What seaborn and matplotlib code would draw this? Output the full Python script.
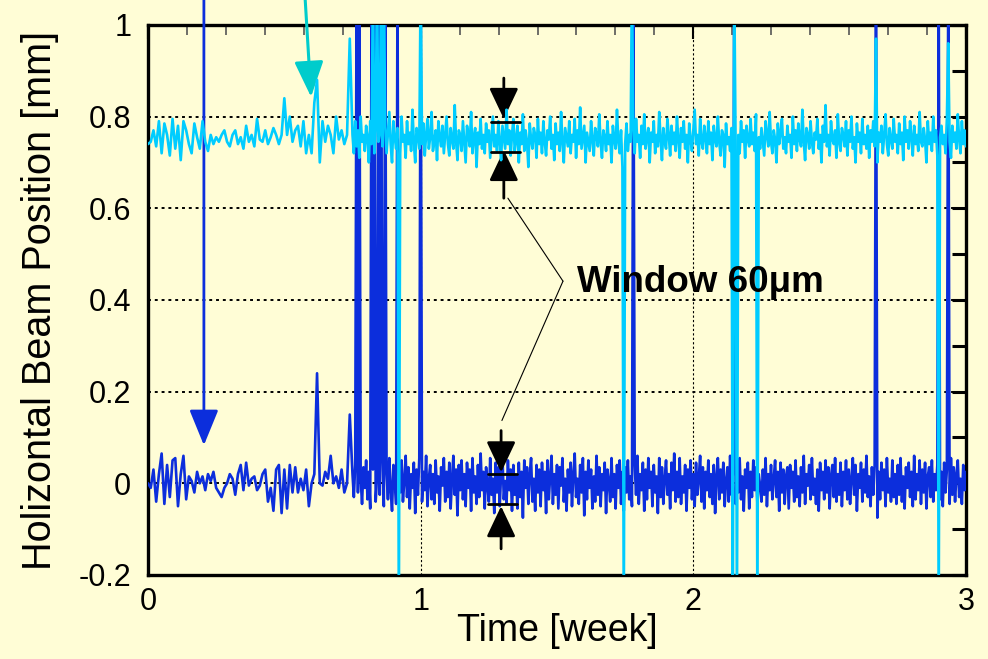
import numpy as np
import matplotlib
matplotlib.use("Agg")
import matplotlib.pyplot as plt
import seaborn as sns
from matplotlib.patches import ArrowStyle

# ---------------- data (values in micrometres) ----------------
# early, sparsely sampled part: t = 0 .. 0.74 week, step 0.01 week
cyan_early = [740, 745, 770, 735, 790, 720, 785, 760, 715, 795,
              730, 780, 705, 790, 770, 740, 720, 785, 755, 730,
              790, 745, 725, 760, 740, 755, 745, 760, 770, 745,
              735, 760, 770, 740, 755, 730, 780, 745, 760, 735,
              795, 750, 745, 770, 740, 755, 775, 760, 740, 760,
              840, 760, 800, 745, 770, 780, 735, 790, 720, 760,
              720, 830, 880, 700, 790, 745, 780, 760, 720, 800,
              750, 770, 740, 760, 970]
blue_early = [0, -10, 30, -40, 20, 65, -45, 40, -30, 50,
              55, -50, 20, 60, -35, 15, 5, -20, 25, 0,
              15, -15, 20, 5, 25, -10, -20, -30, -10, 0,
              20, 10, -25, 20, 40, -15, 45, -5, 10, 15,
              -15, -5, 20, 30, -40, -10, -60, 30, 40, -65,
              30, -55, 40, -20, 35, -20, 10, -15, 30, -50,
              0, 20, 240, 0, -5, 25, 10, 60, 0, 15,
              -10, 30, -20, 0, 150]
# dense part: t = 0.75 .. 3.0 week, step 0.005 week
cyan_late = [
    760, 720, 790, 735, 770, 710, 800, 745, 760, 725, 780, 755, 700, 790, 740, 1100, 720, 770, 1100, 745,
    760, 1100, 735, 1100, 780, 720, 765, 810, 740, 700, 790, 755, 730, 775, -300, 720, 800, 745, 760, 710,
    790, 740, 765, 725, 815, 745, 700, 775, 760, 730, 1100, 740, 785, 715, 760, 795, 730, 755, 810, 725,
    745, 770, 705, 790, 755, 735, 780, 720, 760, 800, 740, 715, 775, 750, 730, 825, 745, 705, 770, 760,
    725, 790, 745, 700, 780, 760, 735, 810, 720, 755, 775, 690, 765, 740, 795, 730, 760, 720, 785, 745,
    770, 710, 755, 800, 735, 760, 725, 790, 745, 705, 780, 755, 730, 815, 740, 770, 715, 760, 795, 725,
    750, 780, 700, 765, 740, 805, 725, 770, 745, 690, 785, 750, 730, 775, 760, 710, 795, 740, 765, 720,
    790, 745, 715, 770, 750, 800, 730, 760, 705, 785, 740, 765, 725, 810, 745, 700, 775, 755, 735, 790,
    720, 760, 745, 795, 710, 770, 740, 820, 730, 755, 780, 700, 765, 745, 725, 790, 750, 715, 775, 760,
    735, 805, 745, 710, 770, 755, 725, 790, 740, 760, 700, 780, 750, 730, 815, 745, 720, 770, 690, -300,
    740, 785, 725, 760, 745, 1100, 770, 720, 795, 745, 760, 710, 780, 740, 805, 730, 755, 775, 700, 765,
    745, 790, 720, 760, 735, 810, 750, 705, 775, 745, 730, 795, 760, 715, 780, 740, 765, 725, 800, 750,
    710, 775, 745, 790, 730, 760, 700, 785, 750, 725, 770, 815, 740, 760, 715, 795, 745, 730, 780, 755,
    720, 790, 740, 765, 705, 780, 750, 735, 800, 745, 715, 770, 760, 690, 785, 740, 755, 725, 775, -300,
    1100, 745, -300, 760, 720, 790, 745, 770, 710, 780, 750, 735, 795, 740, 765, 725, 805, -300, 755, 730,
    775, 745, 715, 790, 760, 735, 810, 745, 720, 770, 750, 700, 785, 740, 765, 795, 730, 755, 720, 780,
    745, 760, 710, 800, 740, 770, 725, 785, 750, 735, 815, 745, 705, 775, 760, 730, 790, 745, 720, 765,
    750, 795, 730, 760, 700, 780, 745, 825, 735, 760, 715, 790, 750, 740, 770, 710, 805, 745, 725, 775,
    760, 735, 790, 715, 770, 745, 800, 730, 755, 700, 785, 745, 765, 720, 795, 740, 760, 730, 780, 710,
    770, 745, 790, 735, 970, 700, 765, 745, 780, 720, 760, 805, 740, 715, 775, 750, 730, 795, 745, 760,
    720, 785, 740, 765, 705, 800, 745, 770, 730, 790, 755, 715, 780, 740, 760, 725, 810, 745, 735, 775,
    750, 700, 790, 740, 765, 725, 800, 745, 770, 715, -300, 755, 780, 740, 760, 720, 795, 960, 745, 710,
    780, 745, 765, 730, 805, 750, 720, 790, 740, 770, 735]
blue_late = [
    20, -30, 40, 1100, -20, 1100, 10, -45, 35, -10, 50, -35, 25, -55, 1100, 30, 1100, -40, 15, 1100,
    -25, 1100, 45, -50, 1100, 20, -35, 55, -15, -60, 40, 10, -45, 1100, 30, -20, 50, -40, 5, 60,
    -30, 35, -55, 20, -10, 45, -65, 30, -25, 55, 1100, -40, 25, -15, 60, -50, 10, 40, -35, 20,
    -45, 50, -20, 15, -60, 35, -5, 55, -40, 25, -30, 45, -55, 10, 60, -25, 30, -70, 40, -15,
    50, -35, 20, -50, 45, -10, 30, -60, 55, -20, 15, -45, 40, -30, 65, -15, 25, -55, 35, -5,
    -40, 55, -25, 10, -65, 45, -20, 35, -50, 20, 60, -35, 5, -45, 50, -15, 30, -60, 40, -25,
    15, -55, 45, -30, 25, -75, 50, -10, 35, -45, 20, 55, -40, 10, -60, 40, -20, 30, -50, 45,
    -15, 25, -65, 50, -35, 15, 60, -45, 20, -25, 40, -55, 35, -5, 55, -40, 10, -60, 30, -20,
    45, -50, 20, 65, -30, 10, -45, 40, -20, 55, -70, 25, -35, 50, -10, 30, -55, 15, -40, 60,
    -25, 35, -50, 20, -15, 45, -65, 30, 5, -40, 55, -30, 20, -55, 40, -10, 50, -45, 25, -60,
    35, -20, 50, -35, 15, -50, 1100, 40, -25, 60, -45, 20, -15, 45, -60, 30, -35, 55, -10, 25,
    -50, 40, -20, 15, -65, 55, -30, 35, -45, 10, 50, -25, 20, -55, 45, -15, 65, -40, 25, -30,
    55, -45, 15, -20, 40, -60, 30, -10, 50, -35, 20, -50, 45, -25, 10, 60, -40, 35, -55, 25,
    -15, 50, -30, 20, -45, 40, -65, 15, 55, -35, 30, -20, 45, -50, 5, 35, -40, 60, -25, 20,
    1100, -45, 40, -20, 55, -35, 15, -60, 30, -10, 45, -55, 25, -30, 50, -15, 35, -45, 20, -5,
    -40, 30, -25, 55, -50, 20, -15, 40, -35, 10, 50, -30, 25, -60, 45, -20, 30, -45, 15, 35,
    -55, 40, -10, 25, -40, 50, -30, 15, -50, 35, -20, 60, -45, 20, -5, 40, -35, 55, -25, 10,
    -45, 30, -60, 45, -15, 25, -35, 50, -20, 35, -55, 15, 40, -30, 55, -40, 20, -25, 45, -50,
    25, -15, 50, -35, 30, -45, 10, 55, -25, 40, -60, 20, -10, 45, -40, 30, -20, 60, -30, 15,
    -50, 35, -25, 40, 1100, -75, 25, -35, 45, -15, 30, -50, 55, -20, 10, -40, 50, -30, 20, -45,
    40, -25, 55, -40, 15, -55, 35, -10, 45, -30, 25, -50, 60, -35, 20, -15, 50, -45, 30, -20,
    45, -55, 15, 35, -30, 50, -40, 20, -15, 40, 1100, -35, 25, -50, 45, -20, 30, 1100, -45, 55,
    -25, 35, -40, 20, 50, -30, 10, -45, 40, -15, 25]

x_ticks = [0, 1, 2, 3]
x_ticklabels = ["0", "1", "2", "3"]
y_ticks = [-0.2, 0, 0.2, 0.4, 0.6, 0.8, 1.0]
y_ticklabels = ["-0.2", "0", "0.2", "0.4", "0.6", "0.8", "1"]

# ---------------- build series ----------------
def build(early, late):
    t = np.concatenate([0.01 * np.arange(len(early)), 0.75 + 0.005 * np.arange(len(late))])
    v = np.concatenate([np.array(early), np.array(late)]) / 1000.0
    return t, v

t_c, v_c = build(cyan_early, cyan_late)
t_b, v_b = build(blue_early, blue_late)

BG = "#FFFDD6"
CYAN = "#00CCFF"
BLUE = "#0C2EDC"
TEAL = "#00CCCC"

sns.set_theme(style="white")
plt.rcParams["font.family"] = ["Liberation Sans", "DejaVu Sans"]
plt.rcParams["text.color"] = "black"
plt.rcParams["axes.labelcolor"] = "black"
plt.rcParams["xtick.color"] = "black"
plt.rcParams["ytick.color"] = "black"

fig = plt.figure(figsize=(9.88, 6.59), dpi=100, facecolor=BG)
ax = fig.add_axes([0.1498, 0.1275, 0.8279, 0.8347])
ax.set_facecolor(BG)

sns.lineplot(x=t_b, y=v_b, ax=ax, color=BLUE, linewidth=1.9, estimator=None, sort=False, zorder=3)
sns.lineplot(x=t_c, y=v_c, ax=ax, color=CYAN, linewidth=1.9, estimator=None, sort=False, zorder=4)

ax.set_xlim(0, 3)
ax.set_ylim(-0.2, 1.0)
ax.set_xticks(x_ticks)
ax.set_xticklabels(x_ticklabels)
ax.set_xticks([k / 7 for k in range(22) if k % 7], minor=True)
ax.set_yticks(y_ticks)
ax.set_yticklabels(y_ticklabels)
ax.set_yticks([-0.1, 0.1, 0.3, 0.5, 0.7, 0.9], minor=True)

ax.tick_params(axis="both", which="both", direction="in", top=True, right=True,
               colors="black", labelcolor="black", labelsize=22)
ax.tick_params(axis="y", which="both", length=10, width=2.2, pad=12)
ax.tick_params(axis="x", which="major", length=10, width=1.5, pad=9)
ax.tick_params(axis="x", which="minor", length=7, width=1.2, color="#555555")

ax.grid(axis="y", which="major", color="black", linestyle=(0, (1.5, 2.0)), linewidth=1.4)
ax.grid(axis="x", which="major", color="black", linestyle=(0, (2, 2)), linewidth=0.8)
ax.set_axisbelow(True)

for sp in ax.spines.values():
    sp.set_visible(True)
    sp.set_color("black")
    sp.set_linewidth(2.4)

ax.set_xlabel("Time [week]", fontsize=27, labelpad=-3, color="black")
ax.set_ylabel("Holizontal Beam Position [mm]", fontsize=28.5, labelpad=14, color="black")

# ---------------- annotations ----------------
def arrow(tip, start, color, lw, hl, hw, ms=20):
    ax.annotate("", xy=tip, xytext=start, xycoords="data", textcoords="data",
                annotation_clip=False,
                arrowprops=dict(arrowstyle=ArrowStyle("-|>", head_length=hl, head_width=hw),
                                mutation_scale=ms, color=color, lw=lw,
                                shrinkA=0, shrinkB=0))

arrow((0.205, 0.083), (0.205, 1.07), BLUE, 2.0, 1.1, 0.45)
arrow((0.598, 0.843), (0.575, 1.07), TEAL, 2.2, 1.1, 0.45)

# window markers
arrow((1.305, 0.795), (1.305, 0.884), "black", 2.0, 0.95, 0.45)
arrow((1.305, 0.727), (1.305, 0.622), "black", 2.0, 0.95, 0.45)
ax.plot([1.258, 1.364], [0.789, 0.789], color="black", lw=2.0, zorder=6)
ax.plot([1.258, 1.364], [0.723, 0.723], color="black", lw=2.0, zorder=6)

arrow((1.295, 0.024), (1.295, 0.115), "black", 2.0, 0.95, 0.45)
arrow((1.295, -0.050), (1.295, -0.143), "black", 2.0, 0.95, 0.45)
ax.plot([1.247, 1.353], [0.020, 0.020], color="black", lw=2.0, zorder=6)
ax.plot([1.247, 1.353], [-0.046, -0.046], color="black", lw=2.0, zorder=6)

ax.plot([1.522, 1.32], [0.441, 0.622], color="black", lw=0.8, zorder=6)
ax.plot([1.522, 1.298], [0.441, 0.137], color="black", lw=0.8, zorder=6)

ax.text(1.573, 0.438, "Window 60\u03bcm", fontsize=26.5, fontweight="bold",
        ha="left", va="center", color="black", zorder=7)

fig.savefig("out.png", dpi=100, facecolor=BG)
